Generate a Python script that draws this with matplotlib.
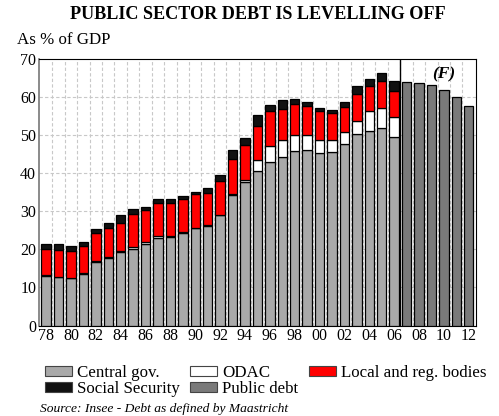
import numpy as np
import matplotlib
matplotlib.use('Agg')
import matplotlib.pyplot as plt
from matplotlib.patches import Patch

plt.rcParams['font.family'] = ['Liberation Serif', 'DejaVu Serif']

# historical years (stacked components, % of GDP)
years = list(range(1978, 2007))
central = [13.0, 12.7, 12.5, 13.6, 16.8, 17.7, 19.2, 20.2, 21.5, 23.1, 23.3, 24.3, 25.5, 26.1, 28.9,
           34.3, 37.7, 40.5, 42.8, 44.3, 45.9, 46.2, 45.4, 45.5, 47.7, 50.3, 51.0, 51.9, 49.6]
odac = [0.2, 0.1, 0.1, 0.3, 0.2, 0.2, 0.4, 0.3, 0.4, 0.3, 0.2, 0.2, 0.2, 0.2, 0.2,
        0.3, 0.4, 2.9, 4.4, 4.3, 4.2, 3.8, 3.4, 3.1, 3.0, 3.5, 5.2, 5.3, 5.1]
local = [6.8, 7.0, 6.9, 7.0, 7.3, 7.7, 7.2, 8.8, 8.4, 8.8, 8.7, 8.6, 8.7, 8.5, 8.8,
         9.2, 9.3, 9.0, 9.0, 8.3, 8.0, 7.6, 7.5, 7.2, 6.7, 7.0, 6.7, 7.1, 6.8]
social = [1.3, 1.5, 1.3, 1.1, 1.1, 1.2, 2.3, 1.2, 0.8, 1.1, 1.1, 0.8, 0.7, 1.2, 1.7,
          2.4, 1.7, 2.9, 1.7, 2.2, 1.3, 1.1, 0.9, 0.8, 1.2, 2.0, 1.7, 2.1, 2.6]

# forecast
f_years = [2007, 2008, 2009, 2010, 2011, 2012]
public_debt = [63.9, 63.7, 63.2, 61.7, 60.1, 57.6]

c_central = '#a9a9a9'
c_odac = '#ffffff'
c_local = '#ff0000'
c_social = '#111111'
c_public = '#7a7a7a'

fig = plt.figure(figsize=(4.99, 4.16), dpi=100)
ax = fig.add_axes([0.078, 0.2175, 0.875, 0.641])

w = 0.76
kw = dict(width=w, edgecolor='black', linewidth=0.9, zorder=3)
x = np.array(years)
b1 = np.array(central)
b2 = b1 + np.array(odac)
b3 = b2 + np.array(local)
ax.bar(x, central, color=c_central, **kw)
ax.bar(x, odac, bottom=b1, color=c_odac, **kw)
ax.bar(x, local, bottom=b2, color=c_local, **kw)
ax.bar(x, social, bottom=b3, color=c_social, **kw)
ax.bar(f_years, public_debt, color=c_public, **kw)

ax.axvline(2006.5, color='black', linewidth=1.0, zorder=4)
ax.text(2009.95, 65.8, '(F)', fontsize=12.5, fontweight='bold', fontstyle='italic',
        ha='center', va='center', zorder=5)

ax.set_xlim(1977.42, 2012.55)
ax.set_ylim(0, 70)
ax.set_yticks(range(0, 71, 10))
ax.set_xticks(range(1978, 2013, 2))
ax.set_xticklabels(['%02d' % (y % 100) for y in range(1978, 2013, 2)])
ax.tick_params(length=0, labelsize=11.5, pad=2)

# dashed grid
for gx in np.arange(1978.5, 2012.5, 1.0):
    ax.axvline(gx, color='#c8c8c8', linestyle=(0, (3, 2)), linewidth=0.8, zorder=1)
for gy in range(10, 70, 10):
    ax.axhline(gy, color='#c8c8c8', linestyle=(0, (3, 2)), linewidth=0.8, zorder=1)

for s in ['top', 'right', 'bottom']:
    ax.spines[s].set_color('black')
ax.spines['left'].set_color('#777777')
ax.spines['left'].set_linewidth(1.2)

fig.text(0.517, 0.965, 'PUBLIC SECTOR DEBT IS LEVELLING OFF', ha='center', va='center',
         fontsize=13.1, fontweight='bold')
fig.text(0.034, 0.903, 'As % of GDP', ha='left', va='center', fontsize=12.2)

handles = [Patch(facecolor=c_central, edgecolor='#444444', linewidth=0.8),
           Patch(facecolor=c_social, edgecolor='#444444', linewidth=0.8),
           Patch(facecolor=c_odac, edgecolor='#444444', linewidth=0.8),
           Patch(facecolor=c_public, edgecolor='#444444', linewidth=0.8),
           Patch(facecolor=c_local, edgecolor='#444444', linewidth=0.8)]
labels = ['Central gov.', 'Social Security', 'ODAC', 'Public debt', 'Local and reg. bodies']
fig.legend(handles, labels, ncol=3, loc='upper left', bbox_to_anchor=(0.09, 0.122),
           bbox_transform=fig.transFigure, frameon=False, fontsize=12.2,
           handlelength=1.6, handleheight=0.5, handletextpad=0.3,
           columnspacing=0.6, labelspacing=0.0, borderpad=0.0, borderaxespad=0.0)

fig.text(0.08, 0.018, 'Source: Insee - Debt as defined by Maastricht', ha='left', va='center',
         fontsize=9.7, fontstyle='italic')

fig.savefig('out.png', dpi=100)
